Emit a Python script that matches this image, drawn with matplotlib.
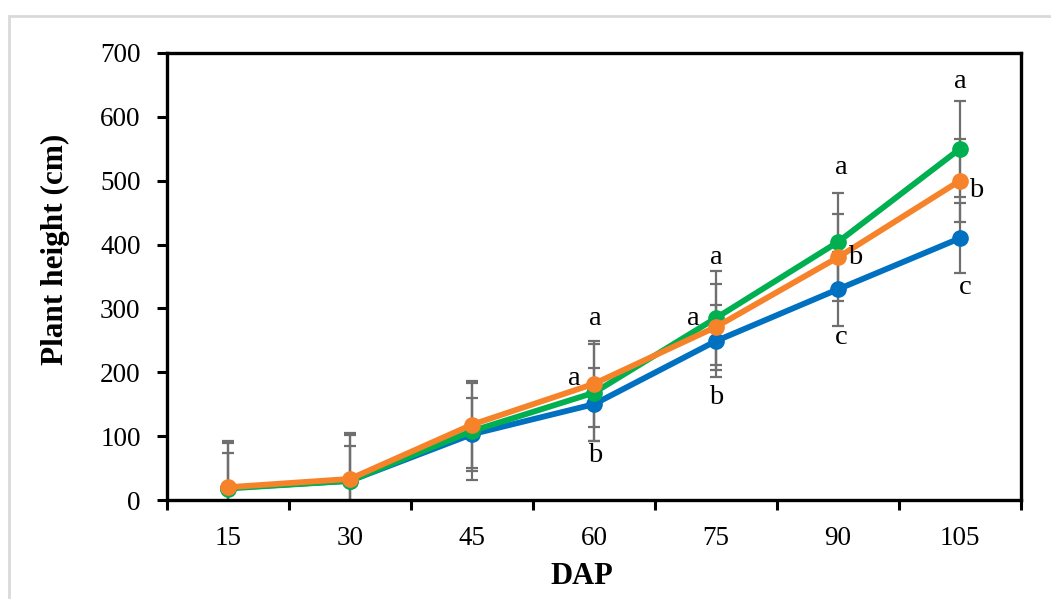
import matplotlib.pyplot as plt
from matplotlib.patches import Rectangle
import numpy as np

plt.rcParams['font.family'] = ['Liberation Serif', 'DejaVu Serif']

dap = ['15', '30', '45', '60', '75', '90', '105']

blue = [19, 30, 103, 150, 249, 330, 410]
blue_err = [55, 55, 57, 57, 56, 58, 55]
green = [18, 30, 108, 168, 285, 404, 550]
green_err = [75, 72, 76, 76, 74, 77, 75]
orange = [20, 33, 118, 182, 271, 380, 500]
orange_err = [69, 72, 68, 67, 67, 68, 65]

# significance letters: (x index, y value, letter)
letters = [
    (3.01, 285, 'a'), (2.84, 191, 'a'), (3.01, 70, 'b'),
    (4.0, 379, 'a'), (3.81, 285, 'a'), (4.0, 160, 'b'),
    (5.03, 520, 'a'), (5.14, 379, 'b'), (5.03, 255, 'c'),
    (6.0, 655, 'a'), (6.13, 485, 'b'), (6.04, 332, 'c'),
]

fig = plt.figure(figsize=(10.51, 5.99), dpi=100)
ax = fig.add_axes([167 / 1051, 99 / 599, (1021 - 167) / 1051, (500 - 53) / 599])

# light gray frame around the chart area
fig.patches.append(Rectangle((9 / 1051, -0.1), 1.2, 1 - 16 / 599 + 0.1,
                             transform=fig.transFigure, fill=False,
                             edgecolor='#d9d9d9', linewidth=2))

x = np.arange(len(dap))
series = [(blue, blue_err, '#0070C0'), (green, green_err, '#00B050'),
          (orange, orange_err, '#F6832A')]

for y, e, c in series:
    ax.errorbar(x, y, yerr=e, fmt='none', ecolor='#6f6f6f', elinewidth=1.6,
                capsize=4.3, capthick=1.6, zorder=2)
for y, e, c in series:
    ax.plot(x, y, color=c, linewidth=4.2, marker='o', markersize=11,
            zorder=3, clip_on=False)

for lx, ly, t in letters:
    ax.text(lx, ly, t, ha='center', va='center', fontsize=20.5)

ax.set_xlim(-0.5, 6.5)
ax.set_ylim(0, 700)
ax.set_yticks(range(0, 701, 100))
ax.set_xticks(np.arange(-0.5, 7, 1))
ax.set_xticklabels([])
ax.set_xticks(x, minor=True)
ax.set_xticklabels(dap, minor=True)
ax.tick_params(axis='x', which='minor', length=0, pad=19, labelsize=19.5)
ax.tick_params(axis='x', which='major', direction='out', length=7, width=2.2)
ax.tick_params(axis='y', direction='out', length=7, width=2.2, pad=12,
               labelsize=19.5)

for s in ax.spines.values():
    s.set_linewidth(2.4)

ax.set_ylabel('Plant height (cm)', fontsize=22.5, fontweight='bold', va='center')
ax.yaxis.set_label_coords(-0.131, 0.56)
ax.set_xlabel('DAP', fontsize=22, fontweight='bold', va='center')
ax.xaxis.set_label_coords(0.486, -0.172)

fig.savefig('out.png', dpi=100)
